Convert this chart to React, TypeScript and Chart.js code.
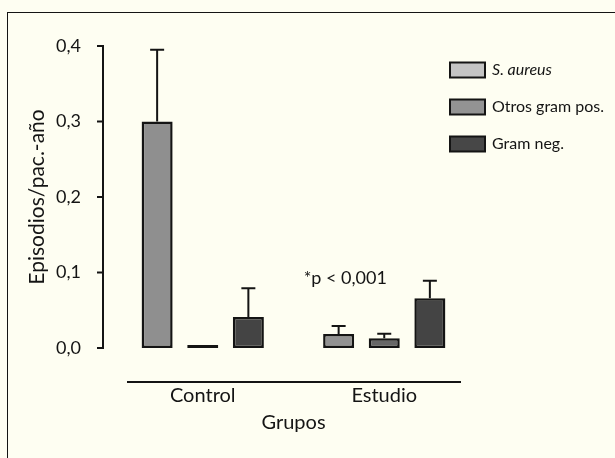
import React, { useEffect, useRef } from "react";
import { Chart, registerables } from "chart.js";

Chart.register(...registerables);

// ---- data ----
const categories = ["Control", "Estudio"];
const seriesLabels = ["S. aureus", "Otros gram pos.", "Gram neg."];
const sAureus = [0.3, 0.0185];
const otrosGramPos = [0.004, 0.0128];
const gramNeg = [0.041, 0.066];
const sAureusErr = [0.095, 0.0105];
const otrosGramPosErr = [0, 0.006];
const gramNegErr = [0.038, 0.023];
const yTicks = [0, 0.1, 0.2, 0.3, 0.4];
const yTitle = "Episodios/pac.-año";
const xTitle = "Grupos";
const annotationText = "*p < 0,001";
const annotationValue = 0.092;

// ---- styles ----
const BG = "#fefef2";
const INK = "#141414";
const FONT = "Lato";
const barFills = [
  ["#8f8f8f", "#929292"],
  ["#141414", "#676767"],
  ["#444444", "#444444"],
];
const legendFills = ["#c4c4c4", "#939393", "#474747"];

const errorBarPlugin = {
  id: "errorBars",
  afterDatasetsDraw(chart: any) {
    const { ctx } = chart;
    const y = chart.scales.y;
    const errs = [sAureusErr, otrosGramPosErr, gramNegErr];
    const vals = [sAureus, otrosGramPos, gramNeg];
    ctx.save();
    ctx.strokeStyle = INK;
    ctx.lineWidth = 2;
    chart.data.datasets.forEach((_: any, di: number) => {
      const meta = chart.getDatasetMeta(di);
      meta.data.forEach((bar: any, i: number) => {
        const e = errs[di][i];
        if (!e) return;
        const top = y.getPixelForValue(vals[di][i] + e);
        ctx.beginPath();
        ctx.moveTo(bar.x, bar.y);
        ctx.lineTo(bar.x, top);
        ctx.moveTo(bar.x - 7, top);
        ctx.lineTo(bar.x + 7, top);
        ctx.stroke();
      });
    });
    ctx.restore();
  },
};

const decorPlugin = {
  id: "decor",
  afterDraw(chart: any) {
    const { ctx, chartArea } = chart;
    const y = chart.scales.y;
    const x = chart.scales.x;
    ctx.save();
    ctx.strokeStyle = INK;
    ctx.lineWidth = 2;
    // y axis line + ticks
    const ax = chartArea.left - 9;
    ctx.beginPath();
    ctx.moveTo(ax, y.getPixelForValue(yTicks[yTicks.length - 1]) - 1);
    ctx.lineTo(ax, y.getPixelForValue(yTicks[0]) + 1);
    yTicks.forEach((t) => {
      const py = y.getPixelForValue(t);
      ctx.moveTo(ax - 6, py);
      ctx.lineTo(ax, py);
    });
    ctx.stroke();
    // x axis line
    const ly = chartArea.bottom + 34;
    ctx.beginPath();
    ctx.moveTo(chartArea.left + 15, ly);
    ctx.lineTo(chartArea.right - 14, ly);
    ctx.stroke();
    // annotation
    ctx.fillStyle = INK;
    ctx.font = `18px ${FONT}`;
    ctx.textAlign = "center";
    ctx.textBaseline = "middle";
    ctx.fillText(annotationText, x.getPixelForValue(1) - 39, y.getPixelForValue(annotationValue));
    // legend
    const lx = chartArea.right - 25;
    seriesLabels.forEach((lab, i) => {
      const cy = chartArea.top + 24 + i * 37;
      ctx.fillStyle = legendFills[i];
      ctx.fillRect(lx, cy - 7.5, 35, 15);
      ctx.strokeStyle = INK;
      ctx.lineWidth = 2;
      ctx.strokeRect(lx, cy - 7.5, 35, 15);
      ctx.fillStyle = INK;
      ctx.textAlign = "left";
      ctx.textBaseline = "middle";
      ctx.font = `${i === 0 ? "italic " : ""}16px ${FONT}`;
      ctx.fillText(lab, lx + 42, cy);
    });
    ctx.restore();
  },
};

export default function App() {
  const ref = useRef<HTMLCanvasElement | null>(null);
  useEffect(() => {
    let chart: Chart | null = null;
    let cancelled = false;
    const make = () => {
      if (cancelled || !ref.current) return;
      chart = new Chart(ref.current, {
        type: "bar",
        data: {
          labels: categories,
          datasets: [
            { label: seriesLabels[0], data: sAureus, backgroundColor: barFills[0] },
            { label: seriesLabels[1], data: otrosGramPos, backgroundColor: barFills[1] },
            { label: seriesLabels[2], data: gramNeg, backgroundColor: barFills[2] },
          ].map((d) => ({
            ...d,
            borderColor: INK,
            borderWidth: 2.5,
            borderSkipped: false,
            categoryPercentage: 0.754,
            barPercentage: 0.68,
          })),
        },
        options: {
          animation: false,
          responsive: false,
          events: [],
          layout: { padding: { top: 46, right: 140, left: 0, bottom: 0 } },
          plugins: { legend: { display: false }, tooltip: { enabled: false } },
          scales: {
            y: {
              min: 0,
              max: 0.4,
              grid: { display: false },
              border: { display: false },
              ticks: {
                stepSize: 0.1,
                padding: 23,
                color: INK,
                font: { family: FONT, size: 18 },
                callback: (v: any) => Number(v).toFixed(1).replace(".", ","),
              },
              title: {
                display: true,
                text: yTitle,
                color: INK,
                font: { family: FONT, size: 21 },
                padding: { top: 25, bottom: 0 },
              },
              afterFit: (s: any) => {
                s.width = 112;
              },
            },
            x: {
              grid: { display: false },
              border: { display: false },
              ticks: {
                padding: 28,
                color: INK,
                font: { family: FONT, size: 20 },
              },
              title: {
                display: true,
                text: xTitle,
                color: INK,
                font: { family: FONT, size: 20 },
                padding: { top: 0, bottom: 23 },
              },
              afterFit: (s: any) => {
                s.height = 110;
              },
            },
          },
        },
        plugins: [errorBarPlugin, decorPlugin],
      });
    };
    const fonts: any = (document as any).fonts;
    if (fonts && fonts.load) {
      Promise.all([
        fonts.load(`16px ${FONT}`),
        fonts.load(`italic 16px ${FONT}`),
      ]).then(make, make);
    } else {
      make();
    }
    return () => {
      cancelled = true;
      if (chart) chart.destroy();
    };
  }, []);

  return (
    <div style={{ position: "fixed", left: 0, top: 0, width: 615, height: 458, background: BG, overflow: "hidden" }}>
      <div
        style={{
          position: "absolute",
          left: 7,
          top: 12,
          width: 700,
          height: 500,
          borderLeft: `1.5px solid ${INK}`,
          borderTop: `1.5px solid ${INK}`,
        }}
      />
      <canvas ref={ref} width={615} height={458} style={{ position: "absolute", left: 0, top: 0, width: 615, height: 458 }} />
    </div>
  );
}
